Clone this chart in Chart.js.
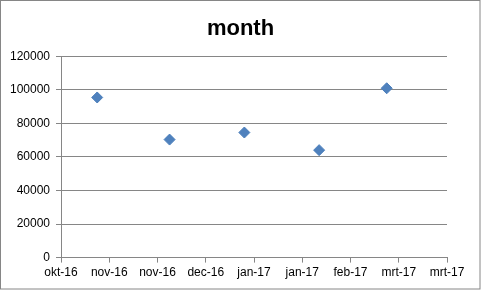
<!DOCTYPE html>
<html>
<head>
<meta charset="utf-8">
<script src="https://cdn.jsdelivr.net/npm/chart.js@4/dist/chart.umd.min.js"></script>
<style>
  body { margin: 0; background: #fff; }
  #wrap { width: 481px; height: 290px; }
</style>
</head>
<body>
<div id="wrap"><canvas id="monthChart" width="481" height="290"></canvas></div>
<script>
// data (one point per month, 1st of the month)
const dates = ["2016-11-01", "2016-12-01", "2017-01-01", "2017-02-01", "2017-03-01"];
const values = [95500, 70400, 74600, 64100, 101000];

// x axis: Excel-style date axis, starts 17 okt 2016, one tick every 20 days
const axisStart = "2016-10-17";
const axisStepDays = 20;
const axisSpanDays = 160;
const monthNames = ["jan", "feb", "mrt", "apr", "mei", "jun", "jul", "aug", "sep", "okt", "nov", "dec"];

// y axis ticks
const yMin = 0;
const yMax = 120000;
const yStep = 20000;

const DAY = 86400000;
const startMs = Date.parse(axisStart + "T00:00:00Z");

function dayOffset(str) {
    return Math.round((Date.parse(str + "T00:00:00Z") - startMs) / DAY);
}

function dateLabel(offset) {
    const d = new Date(startMs + offset * DAY);
    return monthNames[d.getUTCMonth()] + "-" + String(d.getUTCFullYear()).slice(2);
}

const points = dates.map((d, i) => ({ x: dayOffset(d), y: values[i] }));

const gray = "#868686";
const tickFont = { family: "'Liberation Sans', Arial, sans-serif", size: 12 };

// outer chart border like the Excel chart area
const borderPlugin = {
    id: "outerBorder",
    afterDraw(chart) {
        const ctx = chart.ctx;
        ctx.save();
        ctx.strokeStyle = gray;
        ctx.lineWidth = 1;
        ctx.strokeRect(0.5, 0.5, 479.5, 288.5);
        ctx.restore();
    }
};

const ctx = document.getElementById("monthChart").getContext("2d");
new Chart(ctx, {
    type: "scatter",
    data: {
        datasets: [{
            label: "month",
            data: points,
            pointStyle: "rectRot",
            pointRadius: 5.5,
            pointHoverRadius: 5.5,
            backgroundColor: "#4F81BD",
            borderColor: "#4A7EBB",
            borderWidth: 1
        }]
    },
    options: {
        responsive: false,
        animation: false,
        layout: { padding: { left: 0, right: 0, top: 0, bottom: 7 } },
        plugins: {
            legend: { display: false },
            tooltip: { enabled: false },
            title: {
                display: true,
                text: "month",
                color: "#000",
                font: { family: "'Liberation Sans', Arial, sans-serif", size: 22, weight: "bold" },
                padding: { top: 16, bottom: 14 }
            }
        },
        scales: {
            x: {
                type: "linear",
                min: 0,
                max: axisSpanDays,
                ticks: {
                    stepSize: axisStepDays,
                    color: "#000",
                    font: tickFont,
                    padding: 3,
                    maxRotation: 0,
                    callback: v => dateLabel(v)
                },
                grid: { drawOnChartArea: false, color: gray, tickLength: 5 },
                border: { display: true, color: gray }
            },
            y: {
                min: yMin,
                max: yMax,
                ticks: {
                    stepSize: yStep,
                    color: "#000",
                    font: tickFont,
                    padding: 6,
                    callback: v => String(v)
                },
                grid: { color: gray, tickLength: 5 },
                border: { display: true, color: gray },
                afterFit(scale) { scale.width = 61; }
            },
            // empty right-hand gutter so the title stays centred on the whole chart
            gutter: {
                position: "right",
                min: yMin,
                max: yMax,
                ticks: { display: false },
                grid: { display: false },
                border: { display: false },
                afterFit(scale) { scale.width = 34; }
            }
        }
    },
    plugins: [borderPlugin]
});
</script>
</body>
</html>
